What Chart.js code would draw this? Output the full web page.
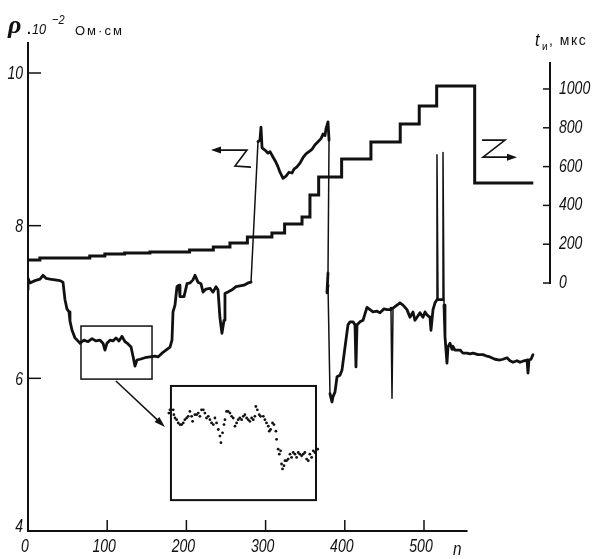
<!DOCTYPE html>
<html>
<head>
<meta charset="utf-8">
<script src="https://cdn.jsdelivr.net/npm/chart.js@4/dist/chart.umd.min.js"></script>
<style>
  html, body { margin: 0; padding: 0; background: #fff; }
  #wrap { width: 599px; height: 559px; }
</style>
</head>
<body>
<div id="wrap"><canvas id="chart" width="599" height="559"></canvas></div>
<script>
// resistivity trace, rho * 10^-2 Ohm*cm vs pulse number n (left axis)
const rhoN = [0, 0, 2.5, 8.8, 15.2, 18.9, 22.7, 27.8, 34.1, 40.4,
  44.2, 46.7, 49.2, 51.8, 53.0, 55.6, 59.3, 63.1, 65.7, 70.7,
  75.8, 80.8, 85.9, 90.9, 94.7, 97.2, 99.7, 103.5, 107.3, 111.1,
  114.9, 118.7, 122.5, 126.3, 130.1, 132.6, 135.1, 137.6, 141.4, 147.7,
  154.0, 160.4, 164.1, 169.2, 174.2, 179.3, 181.8, 183.1, 185.6, 188.1,
  190.7, 191.9, 197.0, 200.8, 204.5, 208.3, 210.9, 214.6, 218.4, 221.0,
  224.7, 229.8, 233.6, 237.4, 239.9, 242.4, 244.9, 247.5, 248.7, 252.5,
  257.6, 262.6, 267.7, 272.7, 277.8, 281.6, 290.4, 292.9, 294.2, 295.5,
  299.2, 303.0, 305.6, 309.3, 313.1, 315.7, 318.2, 322.0, 325.8, 329.5,
  333.3, 335.9, 339.6, 343.4, 347.2, 351.0, 354.8, 358.6, 362.4, 366.2,
  369.9, 372.5, 375.0, 376.3, 378.8, 380.1, 378.8, 377.5, 378.8, 381.3,
  383.8, 385.1, 387.6, 390.2, 393.9, 396.5, 400.3, 404.0, 406.6, 410.4,
  412.9, 414.1, 415.4, 419.2, 423.0, 428.0, 431.8, 435.6, 440.7, 444.4,
  449.5, 453.3, 457.1, 458.3, 459.6, 460.9, 465.9, 469.7, 473.5, 478.5,
  482.3, 486.1, 488.6, 491.2, 494.9, 498.7, 501.3, 503.8, 507.6, 508.8,
  511.4, 513.9, 516.4, 516.4, 517.7, 520.2, 524.0, 524.0, 525.3, 526.5,
  529.0, 530.3, 532.8, 535.4, 536.6, 539.1, 541.7, 545.5, 549.2, 554.3,
  558.1, 561.9, 568.2, 574.5, 579.5, 583.3, 589.6, 595.9, 599.7, 604.8,
  608.6, 612.4, 617.4, 621.2, 626.3, 630.1, 631.3, 632.6, 635.1, 637.6];
const rhoVal = [7.16, 7.31, 7.25, 7.28, 7.30, 7.35, 7.31, 7.30, 7.29, 7.28,
  7.26, 7.03, 6.91, 6.87, 6.75, 6.63, 6.53, 6.49, 6.46, 6.50,
  6.48, 6.52, 6.49, 6.50, 6.46, 6.37, 6.46, 6.50, 6.49, 6.53,
  6.49, 6.55, 6.48, 6.45, 6.41, 6.29, 6.16, 6.24, 6.25, 6.27,
  6.28, 6.29, 6.28, 6.33, 6.37, 6.41, 6.50, 6.87, 6.96, 7.20,
  7.22, 7.07, 7.07, 7.24, 7.25, 7.29, 7.35, 7.26, 7.24, 7.13,
  7.17, 7.18, 7.13, 7.20, 7.16, 6.79, 6.59, 6.76, 7.11, 7.13,
  7.16, 7.20, 7.21, 7.22, 7.25, 7.26, 9.10, 9.12, 9.29, 9.02,
  8.99, 8.95, 8.97, 8.90, 8.83, 8.77, 8.70, 8.62, 8.65, 8.70,
  8.69, 8.74, 8.77, 8.82, 8.89, 8.94, 8.97, 9.00, 9.06, 9.10,
  9.14, 9.20, 9.18, 9.27, 9.36, 9.12, 7.38, 7.12, 7.22, 5.80,
  5.69, 5.76, 5.82, 6.02, 6.04, 6.11, 6.41, 6.70, 6.74, 6.74,
  6.70, 6.15, 6.70, 6.74, 6.76, 6.93, 6.90, 6.87, 6.88, 6.86,
  6.91, 6.90, 6.90, 6.92, 5.74, 6.92, 6.96, 6.99, 6.96, 6.90,
  6.80, 6.87, 6.76, 6.80, 6.86, 6.80, 6.87, 6.83, 6.80, 6.63,
  6.90, 6.99, 7.03, 8.93, 7.03, 7.03, 7.03, 8.96, 6.96, 6.55,
  6.20, 6.41, 6.46, 6.38, 6.42, 6.37, 6.37, 6.37, 6.33, 6.33,
  6.32, 6.33, 6.31, 6.31, 6.29, 6.28, 6.25, 6.24, 6.25, 6.27,
  6.23, 6.21, 6.23, 6.21, 6.23, 6.24, 6.07, 6.24, 6.25, 6.31];

// pulse duration t_и (мкс), stepped (right axis): edges in n, one level per interval
const pulseEdges = [0, 15, 78, 97, 122, 154, 204, 234, 255, 277, 308, 324, 346, 356, 367, 396, 433, 470, 494, 516, 564, 638];
const pulseLevels = [119, 129, 139, 149, 155, 160, 170, 186, 206, 237, 258, 304, 340, 454, 546, 639, 727, 820, 912, 1015, 515];

// magnified piece (dots in the inset)
const insetN = [65.6, 66.3, 68.3, 68.7, 69.4, 70.4, 71.4, 72.5, 73.5, 74.5,
  75.5, 76.6, 77.6, 78.6, 79.7, 80.3, 81.7, 82.8, 83.8, 84.8,
  85.8, 86.9, 87.9, 88.9, 90.0, 91.0, 92.0, 93.1, 94.1, 95.1,
  96.2, 97.2, 97.8, 98.8, 99.7, 100.3, 101.3, 102.3, 103.4, 104.4,
  105.4, 106.5, 107.5, 108.5, 109.5, 110.6, 111.6, 112.6, 113.7, 114.7,
  115.7, 116.8, 117.8, 118.8, 119.4, 120.3, 121.5, 122.3, 124.0, 125.0,
  126.0, 127.1, 127.7, 128.5, 129.7, 130.6, 131.8, 132.2, 133.2, 133.9,
  134.7, 135.3, 135.9, 136.8, 137.4, 138.4, 139.4, 140.5, 141.5, 142.5,
  143.6, 144.6, 145.6, 146.6, 147.7, 148.7, 149.7, 150.8, 151.8, 152.8,
  153.9, 154.9, 155.9, 156.9, 157.6];
const insetRho = [6.52, 6.54, 6.54, 6.51, 6.49, 6.48, 6.46, 6.45, 6.45, 6.46,
  6.48, 6.49, 6.50, 6.53, 6.50, 6.47, 6.51, 6.51, 6.52, 6.50,
  6.54, 6.54, 6.52, 6.49, 6.50, 6.48, 6.46, 6.45, 6.49, 6.46,
  6.42, 6.38, 6.34, 6.40, 6.45, 6.48, 6.53, 6.53, 6.52, 6.50,
  6.49, 6.44, 6.46, 6.48, 6.49, 6.48, 6.50, 6.51, 6.49, 6.48,
  6.47, 6.49, 6.48, 6.50, 6.56, 6.54, 6.51, 6.50, 6.50, 6.48,
  6.46, 6.44, 6.41, 6.42, 6.46, 6.45, 6.41, 6.36, 6.30, 6.27,
  6.29, 6.21, 6.18, 6.20, 6.23, 6.23, 6.24, 6.27, 6.25, 6.28,
  6.27, 6.25, 6.28, 6.27, 6.26, 6.27, 6.28, 6.24, 6.23, 6.27,
  6.25, 6.29, 6.28, 6.30, 6.30];

const nTicks = [0, 100, 200, 300, 400, 500];
const rhoTicks = [4, 6, 8, 10];
const tTicks = [0, 200, 400, 600, 800, 1000];
const zoomN = [66.9, 156.6];     // box that is magnified
const zoomRho = [5.99, 6.685];

const ink = '#111';
const sansFam = "'Liberation Sans', Arial, sans-serif";

function seg(ctx, x0, y0, x1, y1, w) {
  ctx.lineWidth = w;
  ctx.beginPath();
  ctx.moveTo(x0, y0);
  ctx.lineTo(x1, y1);
  ctx.stroke();
}

function head(ctx, x, y, ang, len, half) {
  ctx.beginPath();
  ctx.moveTo(x, y);
  ctx.lineTo(x - len * Math.cos(ang) + half * Math.sin(ang), y - len * Math.sin(ang) - half * Math.cos(ang));
  ctx.lineTo(x - len * Math.cos(ang) - half * Math.sin(ang), y - len * Math.sin(ang) + half * Math.cos(ang));
  ctx.closePath();
  ctx.fill();
}

// narrow text, like the drafting lettering of the original
function narrowText(ctx, text, x, y, align, font, squeeze) {
  ctx.save();
  ctx.font = font;
  const k = squeeze || 0.78;
  const w = ctx.measureText(text).width * k;
  const x0 = align === 'right' ? x - w : align === 'center' ? x - w / 2 : x;
  ctx.translate(x0, y);
  ctx.scale(k, 1);
  ctx.textAlign = 'left';
  ctx.textBaseline = 'alphabetic';
  ctx.fillText(text, 0, 0);
  ctx.restore();
}

const decor = {
  id: 'decor',
  afterDraw(chart) {
    const { ctx, chartArea: a, scales: s } = chart;
    ctx.save();
    ctx.strokeStyle = ink;
    ctx.fillStyle = ink;
    ctx.lineCap = 'butt';
    const tickLab = 'italic 18px ' + sansFam;

    // bottom axis stops short of the right axis
    seg(ctx, a.left - 1, a.bottom, s.x.getPixelForValue(555), a.bottom, 2);
    nTicks.forEach((v, i) => {
      const px = s.x.getPixelForValue(v);
      if (i > 0) seg(ctx, px, a.bottom, px, a.bottom - 11, 1.5);
      narrowText(ctx, String(v), px - 3, 552, 'center', tickLab);
    });
    rhoTicks.forEach((v, i) => {
      const py = s.y.getPixelForValue(v);
      if (i > 0) seg(ctx, a.left, py, a.left + 13, py, 1.5);
      narrowText(ctx, String(v), 23, py + (i === 0 ? 1 : 6.5), 'right', tickLab);
    });

    // right axis, short
    const rx = a.right;
    seg(ctx, rx, s.y2.getPixelForValue(1139), rx, s.y2.getPixelForValue(0) + 1, 2);
    tTicks.forEach(v => {
      const py = s.y2.getPixelForValue(v);
      seg(ctx, rx - 7, py, rx, py, 1.5);
      narrowText(ctx, String(v), 559, py + 5, 'left', tickLab);
    });

    // magnified box and inset frame
    const bx0 = s.x.getPixelForValue(zoomN[0]), bx1 = s.x.getPixelForValue(zoomN[1]);
    const by0 = s.y.getPixelForValue(zoomRho[1]), by1 = s.y.getPixelForValue(zoomRho[0]);
    ctx.lineWidth = 1.5;
    ctx.strokeRect(bx0, by0, bx1 - bx0, by1 - by0);
    const ix0 = s.x3.getPixelForValue(zoomN[0]), ix1 = s.x3.getPixelForValue(zoomN[1]);
    const iy0 = s.y3.getPixelForValue(zoomRho[1]), iy1 = s.y3.getPixelForValue(zoomRho[0]);
    ctx.lineWidth = 2;
    ctx.strokeRect(ix0, iy0, ix1 - ix0, iy1 - iy0);

    // arrow from box to inset
    const ax0 = s.x.getPixelForValue(111), ay0 = s.y.getPixelForValue(5.965);
    const ax1 = s.x3.getPixelForValue(63.2), ay1 = s.y3.getPixelForValue(6.435);
    const ang = Math.atan2(ay1 - ay0, ax1 - ax0);
    seg(ctx, ax0, ay0, ax1 - 6 * Math.cos(ang), ay1 - 6 * Math.sin(ang), 1.5);
    head(ctx, ax1, ay1, ang, 11, 3.5);

    // "<-Z" : curve belongs to left axis
    let zx = s.x.getPixelForValue(276.5), zy = s.y.getPixelForValue(8.99);
    ctx.lineWidth = 1.6;
    ctx.beginPath();
    ctx.moveTo(zx - 28, zy);
    ctx.lineTo(zx, zy);
    ctx.lineTo(zx - 12, zy + 16);
    ctx.lineTo(zx + 4, zy + 17);
    ctx.stroke();
    head(ctx, zx - 36, zy, Math.PI, 10, 3.5);

    // "Z->" : curve belongs to right axis
    zx = s.x.getPixelForValue(602.3); zy = s.y.getPixelForValue(9.12);
    ctx.beginPath();
    ctx.moveTo(zx - 23, zy);
    ctx.lineTo(zx, zy);
    ctx.lineTo(zx - 22, zy + 17);
    ctx.lineTo(zx + 4, zy + 17);
    ctx.stroke();
    head(ctx, zx + 12, zy + 17, 0, 10, 3.5);

    // axis titles
    ctx.textBaseline = 'alphabetic';
    ctx.textAlign = 'left';
    ctx.font = "bold italic 26px 'Liberation Serif', serif";
    ctx.fillText('ρ', 8, 33);
    ctx.font = "bold 14px " + sansFam;
    ctx.fillText('.', 27, 34);
    narrowText(ctx, '10', 32, 34, 'left', 'italic 15px ' + sansFam, 0.85);
    narrowText(ctx, '−2', 52, 24, 'left', 'italic 13px ' + sansFam, 0.85);
    ctx.font = "13px " + sansFam;
    ctx.letterSpacing = '2px';
    ctx.fillText('Ом·см', 75, 35);

    ctx.letterSpacing = '0px';
    narrowText(ctx, 't', 535, 46, 'left', 'italic 18px ' + sansFam, 0.9);
    ctx.font = "10px " + sansFam;
    ctx.fillText('и', 542, 50);
    ctx.font = "14px " + sansFam;
    ctx.letterSpacing = '1.5px';
    ctx.fillText(', мкс', 549, 45);
    ctx.letterSpacing = '0px';

    narrowText(ctx, 'n', 453, 555, 'left', 'italic 18px ' + sansFam, 0.85);
    ctx.restore();
  }
};

const rhoPoints = rhoN.map((n, i) => ({ x: n, y: rhoVal[i] }));
const pulsePoints = [];
pulseLevels.forEach((t, i) => {
  pulsePoints.push({ x: pulseEdges[i], y: t });
  pulsePoints.push({ x: pulseEdges[i + 1], y: t });
});
const insetPoints = insetN.map((n, i) => ({ x: n, y: insetRho[i] }));

new Chart(document.getElementById('chart'), {
  type: 'line',
  data: {
    datasets: [
      {
        label: 'ρ',
        data: rhoPoints,
        xAxisID: 'x', yAxisID: 'y',
        borderColor: ink,
        borderWidth: 2.8,
        borderJoinStyle: 'round',
        borderCapStyle: 'round',
        pointRadius: 0,
        tension: 0,
        segment: {
          borderWidth: c => Math.abs(c.p1.y - c.p0.y) > 60 ? 1.5 : 2.8
        }
      },
      {
        label: 't',
        data: pulsePoints,
        xAxisID: 'x', yAxisID: 'y2',
        borderColor: ink,
        borderWidth: 3,
        borderJoinStyle: 'miter',
        pointRadius: 0,
        tension: 0
      },
      {
        type: 'scatter',
        label: 'inset',
        data: insetPoints,
        xAxisID: 'x3', yAxisID: 'y3',
        backgroundColor: ink,
        borderWidth: 0,
        pointRadius: 1.4,
        showLine: false
      }
    ]
  },
  options: {
    responsive: false,
    animation: false,
    devicePixelRatio: 1,
    layout: { padding: { top: 43, left: 0, right: 0, bottom: 0 } },
    plugins: { legend: { display: false }, tooltip: { enabled: false } },
    scales: {
      x: {
        type: 'linear', position: 'bottom', min: 0, max: 659.1,
        afterBuildTicks: sc => { sc.ticks = nTicks.map(v => ({ value: v })); },
        afterFit: sc => { sc.height = 28; },
        grid: { display: false },
        border: { display: false },
        ticks: { display: false }
      },
      y: {
        type: 'linear', position: 'left', min: 4, max: 10.393,
        afterBuildTicks: sc => { sc.ticks = rhoTicks.map(v => ({ value: v })); },
        afterFit: sc => { sc.width = 28; },
        grid: { display: false },
        border: { display: true, color: ink, width: 2 },
        ticks: { display: false }
      },
      y2: {
        type: 'linear', position: 'right', min: -1278, max: 1237,
        afterBuildTicks: sc => { sc.ticks = tTicks.map(v => ({ value: v })); },
        afterFit: sc => { sc.width = 49; },
        grid: { display: false },
        border: { display: false },
        ticks: { display: false }
      },
      x3: { type: 'linear', display: false, min: -21.5, max: 301.3 },
      y3: { type: 'linear', display: false, min: 5.802, max: 8.773 }
    }
  },
  plugins: [decor]
});
</script>
</body>
</html>
